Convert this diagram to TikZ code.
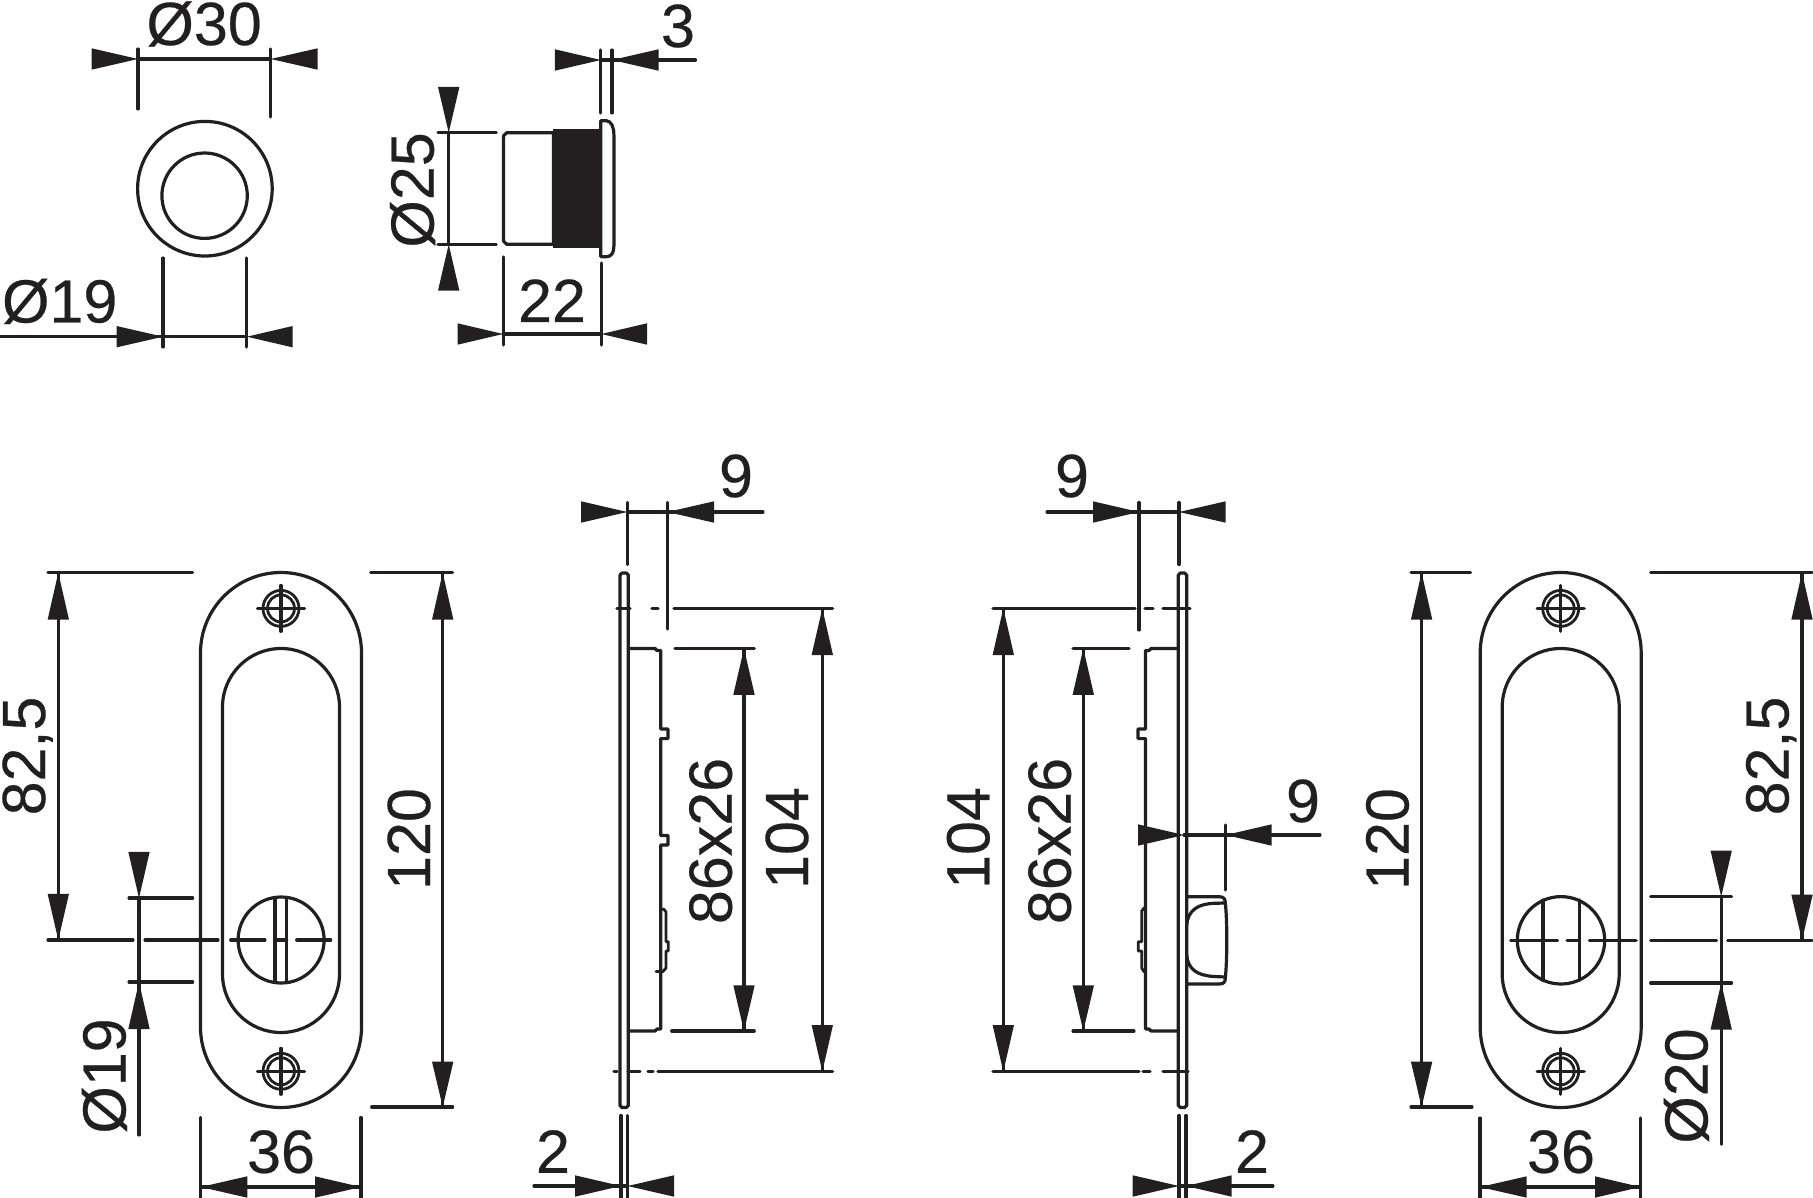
\documentclass[tikz,border=0pt]{standalone}
\usepackage{fontspec}
\setmainfont[FakeBold=0.4]{Liberation Sans}
\definecolor{ink}{HTML}{231F20}
\tikzset{
  x=1pt,y=-1pt,
  part/.style={draw=ink,line width=3.2pt,line cap=round,line join=round},
  dimline/.style={draw=ink,line width=3.1pt,line cap=round},
  lab/.style={inner sep=0pt,anchor=base,text=ink,font=\fontsize{61}{62}\selectfont},
  vlab/.style={lab,rotate=90}
}
\newcommand{\hhead}[3]{\fill[ink] (#1,#3) -- (#2,#3-10.7) -- (#2,#3+10.7) -- cycle;}
\newcommand{\vhead}[3]{\fill[ink] (#1,#2) -- (#1-10.7,#3) -- (#1+10.7,#3) -- cycle;}
\newcommand{\seg}[4]{\draw[dimline] (#1,#2) -- (#3,#4);}
\newcommand{\faceplate}[1]{%
  \draw[part] (#1-80.5,653) arc[start angle=180,end angle=360,radius=80.5] -- (#1+80.5,1027) arc[start angle=0,end angle=180,radius=80.5] -- cycle;
  \draw[part] (#1-58.5,707) arc[start angle=180,end angle=360,radius=58.5] -- (#1+58.5,974) arc[start angle=0,end angle=180,radius=58.5] -- cycle;
  \foreach \yy in {608.4,1071.3}{
    \draw[part,line width=2.8pt] (#1,\yy) circle[radius=18];
    \draw[part,line width=2.8pt] (#1,\yy) circle[radius=13.5];
    \seg{#1-23.5}{\yy}{#1+23.5}{\yy}
    \seg{#1}{\yy-23}{#1}{\yy+23}
  }
}
\newcommand{\sideplate}[2]{%
  \draw[part] (#1+2,573) -- (#2-2,573) -- (#2,575) -- (#2,1105.5) -- (#2-2,1107.5) -- (#1+2,1107.5) -- (#1,1105.5) -- (#1,575) -- cycle;
}
\begin{document}
\begin{tikzpicture}
\useasboundingbox (0,0) rectangle (1813,1198);
% --- top left: front view of the pull
\draw[part] (204.9,188.7) circle[radius=67.3];
\draw[part] (204.6,195.7) circle[radius=42.7];
\seg{138}{49}{138}{109}
\seg{270.8}{49}{270.8}{117}
\seg{138}{59}{270.8}{59}
\hhead{138}{91.6}{59}
\hhead{270.8}{317.6}{59}
\node[lab] at (204.1,45) {Ø30};
\seg{163}{258}{163}{347}
\seg{246.9}{258}{246.9}{347}
\seg{0}{336.7}{246.9}{336.7}
\hhead{163}{116.5}{336.7}
\hhead{246.9}{292.7}{336.7}
\node[lab] at (59.7,322.5) {Ø19};
% --- top: side view of the pull
\draw[part] (506.7,132.7) -- (553.5,132.7) -- (553.5,244.3) -- (506.7,244.3) -- (503.5,241) -- (503.5,136) -- cycle;
\fill[ink] (552.5,129.3) -- (599.3,129.3) -- (599.3,247.7) -- (552.5,247.7) -- cycle;
\draw[part] (600.8,120.7) -- (606.3,120.7) .. controls (611.3,121) and (613.9,127) .. (613.9,135) -- (613.9,246) .. controls (613.9,253) and (611.3,256.7) .. (606.3,256.7) -- (600.8,256.7) -- cycle;
\seg{438}{132.7}{496.4}{132.7}
\seg{438}{244.3}{496.4}{244.3}
\seg{448.7}{132.7}{448.7}{244.3}
\vhead{448.7}{132.7}{87}
\vhead{448.7}{244.3}{290.7}
\node[vlab] at (433.6,190) {Ø25};
\seg{600.9}{50}{600.9}{113}
\seg{612}{50}{612}{113}
\seg{600.9}{60}{695.5}{60}
\hhead{600.9}{554.9}{60}
\hhead{612}{658.5}{60}
\node[lab] at (678,47) {3};
\seg{503.1}{257}{503.1}{345}
\seg{601.3}{263}{601.3}{345}
\seg{503.1}{334}{601.3}{334}
\hhead{503.1}{457.6}{334}
\hhead{601.3}{647.1}{334}
\node[lab] at (552,322) {22};
% --- lower left: face view with turn piece
\faceplate{281}
\draw[part] (281.1,940) circle[radius=43];
\seg{275}{897.5}{275}{982.5}
\seg{286.7}{897.5}{286.7}{982.5}
\seg{230.7}{940}{265}{940}
\seg{275}{940}{286.7}{940}
\seg{296.7}{940}{330.7}{940}
\seg{48}{940}{133}{940}
\seg{145}{940}{218}{940}
\seg{48}{572.7}{192.7}{572.7}
\seg{58.3}{572.7}{58.3}{940}
\vhead{58.3}{572.7}{619.7}
\vhead{58.3}{940}{893.8}
\node[vlab] at (45,756) {82,5};
\seg{370.7}{572.7}{452.7}{572.7}
\seg{371.7}{1107}{452.7}{1107}
\seg{442.7}{572.7}{442.7}{1107}
\vhead{442.7}{572.7}{619.7}
\vhead{442.7}{1107}{1061.6}
\node[vlab] at (430,839) {120};
\seg{129}{898}{192.7}{898}
\seg{129}{982}{192.7}{982}
\seg{139}{898}{139}{1135}
\vhead{139}{898}{851.8}
\vhead{139}{982}{1029}
\node[vlab] at (125.5,1076) {Ø19};
\seg{200.7}{1117.4}{200.7}{1198}
\seg{361}{1117.4}{361}{1198}
\seg{200.7}{1187}{361}{1187}
\hhead{200.7}{247.3}{1187}
\hhead{361}{315}{1187}
\node[lab] at (281,1172.8) {36};
% --- second view: side section
\sideplate{620}{628.3}
\draw[part] (628.3,648.5) -- (655,648.5) -- (657,650.5) -- (660.7,650.5) -- (660.7,729) -- (668,729) -- (668,738.6) -- (660.7,738.6) -- (660.7,835.5) -- (668,835.5) -- (668,845) -- (660.7,845) -- (660.7,1029) -- (657,1029) -- (655,1031) -- (628.3,1031);
\draw[part,line width=2.8pt] (660.7,909.3) -- (664,909.3) -- (666,912) -- (666,941.7) -- (668.3,941.7) -- (668.3,951) -- (666,951) -- (666,968) -- (663,971.5) -- (656,971.5);
\seg{627.3}{502.5}{627.3}{564.5}
\seg{667.3}{502.5}{667.3}{629}
\seg{627.3}{512}{763}{512}
\hhead{627.3}{581}{512}
\hhead{667.3}{714}{512}
\node[lab] at (736,497) {9};
\seg{617}{608.4}{630}{608.4}
\seg{652}{608.4}{658}{608.4}
\seg{674}{608.4}{832.7}{608.4}
\seg{614}{1071.6}{617}{1071.6}
\seg{628}{1071.6}{640}{1071.6}
\seg{648}{1071.6}{653}{1071.6}
\seg{658}{1071.6}{832.7}{1071.6}
\seg{675}{648.5}{754.3}{648.5}
\seg{671.7}{1031}{754.3}{1031}
\seg{744}{648.5}{744}{1031}
\vhead{744}{648.5}{694.8}
\vhead{744}{1031}{985.3}
\node[vlab] at (731.7,841) {86x26};
\seg{822.3}{608.4}{822.3}{1071.6}
\vhead{822.3}{608.4}{655}
\vhead{822.3}{1071.6}{1025}
\node[vlab] at (808,838) {104};
\seg{621}{1115.5}{621}{1198}
\seg{627.7}{1115.5}{627.7}{1198}
\seg{534}{1186}{627.7}{1186}
\hhead{621}{575}{1186}
\hhead{627.7}{674}{1186}
\node[lab] at (553,1172.8) {2};
% --- third view: side section with turn knob
\sideplate{1178.3}{1186.7}
\draw[part] (1178.3,648.5) -- (1151,648.5) -- (1149,650.5) -- (1145.5,650.5) -- (1145.5,729) -- (1138,729) -- (1138,738.6) -- (1145.5,738.6) -- (1145.5,1029) -- (1149,1029) -- (1151,1031) -- (1178.3,1031);
\draw[part,line width=2.8pt] (1145.5,908) -- (1144,908) -- (1141.7,911) -- (1141.7,941.7) -- (1138.3,941.7) -- (1138.3,951) -- (1141.7,951) -- (1141.7,968) -- (1144,971.7) -- (1145.5,971.7);
\draw[part] (1186.7,896.7) -- (1219,896.7) .. controls (1224,896.7) and (1225.3,899) .. (1225.3,903) .. controls (1227.3,920) and (1227.3,960) .. (1225.3,978) .. controls (1225.3,982) and (1224,984) .. (1219,984) -- (1186.7,984);
\draw[part] (1225,903) -- (1214,903.3) .. controls (1198,904) and (1188,910) .. (1186.7,925) (1186.7,955) .. controls (1188,970) and (1198,975.5) .. (1214,976.5) -- (1225,977);
\seg{1139}{502.5}{1139}{630}
\seg{1179}{502.5}{1179}{564.5}
\seg{1047}{512}{1179}{512}
\hhead{1139}{1093}{512}
\hhead{1179}{1225.7}{512}
\node[lab] at (1072,497) {9};
\seg{993}{608.4}{1135}{608.4}
\seg{1145}{608.4}{1153}{608.4}
\seg{1163}{608.4}{1190}{608.4}
\seg{993}{1071.6}{1139}{1071.6}
\seg{1143}{1071.6}{1150}{1071.6}
\seg{1163}{1071.6}{1188}{1071.6}
\seg{1073}{648.5}{1129}{648.5}
\seg{1073}{1031}{1134}{1031}
\seg{1083.3}{648.5}{1083.3}{1031}
\vhead{1083.3}{648.5}{694.8}
\vhead{1083.3}{1031}{985.3}
\node[vlab] at (1070.7,841) {86x26};
\seg{1003.3}{608.4}{1003.3}{1071.6}
\vhead{1003.3}{608.4}{655}
\vhead{1003.3}{1071.6}{1025}
\node[vlab] at (989.3,838) {104};
\seg{1225.7}{825}{1225.7}{890}
\seg{1184}{835}{1320}{835}
\hhead{1184}{1138}{835}
\hhead{1225.7}{1271.7}{835}
\node[lab] at (1303,822) {9};
\seg{1179}{1115.5}{1179}{1198}
\seg{1186}{1115.5}{1186}{1198}
\seg{1179}{1186}{1273}{1186}
\hhead{1179}{1132.7}{1186}
\hhead{1186}{1231.7}{1186}
\node[lab] at (1252,1172.8) {2};
% --- lower right: face view with emergency release
\faceplate{1560.7}
\draw[part] (1561,940.3) circle[radius=43.7];
\seg{1543}{900}{1543}{980.5}
\seg{1579.3}{900}{1579.3}{980.5}
\seg{1510.6}{940.3}{1557.5}{940.3}
\seg{1567}{940.3}{1577.6}{940.3}
\seg{1589.3}{940.3}{1636.2}{940.3}
\seg{1650.6}{940.3}{1716.5}{940.3}
\seg{1727.6}{940.3}{1812}{940.3}
\seg{1411}{572.7}{1470.5}{572.7}
\seg{1411}{1107}{1472}{1107}
\seg{1421.6}{572.7}{1421.6}{1107}
\vhead{1421.6}{572.7}{619.7}
\vhead{1421.6}{1107}{1061.6}
\node[vlab] at (1408.5,839) {120};
\seg{1650.6}{572.7}{1812}{572.7}
\seg{1802}{572.7}{1802}{940.3}
\vhead{1802}{572.7}{619.7}
\vhead{1802}{940.3}{894.6}
\node[vlab] at (1788.5,756) {82,5};
\seg{1650.6}{896.7}{1731.6}{896.7}
\seg{1650.6}{983}{1731.6}{983}
\seg{1721.2}{896.7}{1721.2}{1144.3}
\vhead{1721.2}{896.7}{850.5}
\vhead{1721.2}{983}{1029.7}
\node[vlab] at (1707.5,1086) {Ø20};
\seg{1480}{1118}{1480}{1198}
\seg{1640.5}{1118}{1640.5}{1198}
\seg{1480}{1187}{1640.5}{1187}
\hhead{1480}{1526.7}{1187}
\hhead{1640.5}{1595}{1187}
\node[lab] at (1561,1172.8) {36};
\end{tikzpicture}
\end{document}
